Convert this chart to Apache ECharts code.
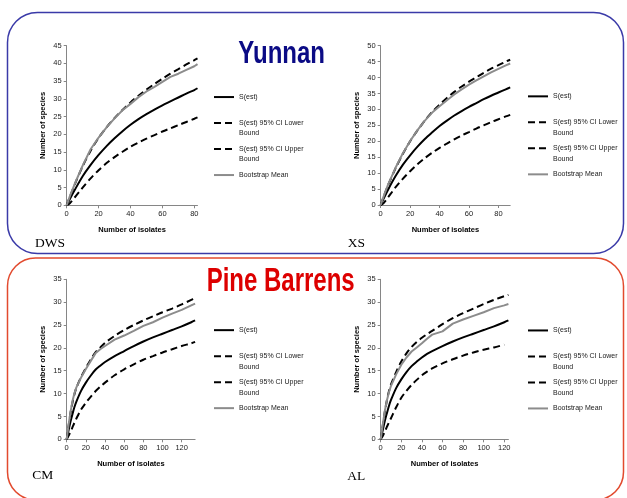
<!DOCTYPE html>
<html>
<head>
<meta charset="utf-8">
<script src="https://cdn.jsdelivr.net/npm/echarts@6/dist/echarts.min.js"></script>
<style>
  html, body { margin: 0; padding: 0; background: #fff; }
  #chart { width: 627px; height: 498px; }
</style>
</head>
<body>
<div id="chart"></div>
<script>
// DWS (Yunnan)
const dwsX     = [0, 2, 5, 10, 15, 20, 25, 30, 35, 40, 45, 50, 55, 60, 65, 70, 75, 80, 82];
const dwsEst   = [0, 1.8, 4.3, 8.2, 11.4, 14.2, 16.7, 18.9, 20.9, 22.7, 24.3, 25.7, 27, 28.2, 29.3, 30.4, 31.5, 32.5, 33];
const dwsLower = [0, 0.6, 2.2, 5, 7.6, 9.9, 11.9, 13.6, 15.1, 16.5, 17.7, 18.8, 19.8, 20.8, 21.7, 22.6, 23.5, 24.4, 24.8];
const dwsUpper = [0, 2.4, 5.8, 11, 15.4, 19, 22, 24.6, 26.9, 29, 30.9, 32.6, 34.2, 35.7, 37.1, 38.4, 39.7, 40.9, 41.4];
const dwsBoot  = [0, 2.6, 6, 11.2, 15.8, 19.1, 22, 24.5, 26.8, 28.6, 30.5, 32.1, 33.4, 34.8, 36.2, 37.1, 38.2, 39.2, 39.8];

// XS (Yunnan)
const xsX     = [0, 2, 5, 10, 15, 20, 25, 30, 35, 40, 45, 50, 55, 60, 65, 70, 75, 80, 85, 88];
const xsEst   = [0, 2, 4.8, 9, 12.6, 15.6, 18.3, 20.7, 22.8, 24.8, 26.5, 28.1, 29.5, 30.8, 32, 33.2, 34.3, 35.3, 36.3, 36.9];
const xsLower = [0, 0.6, 2.4, 5.5, 8.2, 10.6, 12.8, 14.7, 16.4, 17.9, 19.3, 20.6, 21.8, 22.9, 24, 25, 26, 26.9, 27.8, 28.3];
const xsUpper = [0, 2.6, 6.2, 11.4, 16, 20, 23.4, 26.5, 29.2, 31.5, 33.6, 35.5, 37.2, 38.7, 40.1, 41.5, 42.8, 43.9, 45, 45.6];
const xsBoot  = [0, 2.7, 6.4, 11.6, 16.2, 20.1, 23.5, 26.5, 29, 31, 32.9, 34.7, 36.3, 37.8, 39.1, 40.4, 41.6, 42.7, 43.8, 44.4];

// CM (Pine Barrens)
const cmX     = [0, 2, 4, 6, 8, 10, 15, 20, 25, 30, 35, 40, 50, 60, 70, 80, 90, 100, 110, 120, 130, 134];
const cmEst   = [0, 2, 3.9, 5.5, 7, 8.2, 10.6, 12.4, 13.9, 15.2, 16.1, 16.9, 18.2, 19.3, 20.4, 21.4, 22.3, 23.1, 23.9, 24.7, 25.6, 26];
const cmLower = [0, 0.8, 1.6, 2.6, 3.6, 4.5, 6.5, 8, 9.3, 10.5, 11.5, 12.4, 14, 15.3, 16.4, 17.4, 18.2, 19, 19.7, 20.4, 21, 21.3];
const cmUpper = [0, 3, 5.8, 8, 9.8, 11.2, 13.6, 15.6, 17.4, 19, 20.1, 21.1, 22.6, 23.9, 25, 26, 26.9, 27.8, 28.6, 29.5, 30.5, 30.9];
const cmBoot  = [0, 3.2, 6, 8.3, 10, 11.3, 13.5, 15.4, 17.1, 18.8, 19.7, 20.4, 21.8, 22.7, 23.7, 24.8, 25.6, 26.6, 27.5, 28.3, 29.3, 29.7];

// AL (Pine Barrens)
const alX     = [0, 2, 4, 6, 8, 10, 15, 20, 25, 30, 35, 40, 45, 50, 60, 70, 80, 90, 100, 110, 120, 124];
const alEst   = [0, 2, 4, 5.7, 7.3, 8.6, 11.2, 13.1, 14.7, 16, 17, 17.9, 18.7, 19.3, 20.4, 21.4, 22.3, 23.1, 23.9, 24.7, 25.6, 26];
const alLower = [0, 0.7, 1.7, 2.7, 3.7, 4.6, 7, 9.1, 10.6, 11.9, 13, 14, 14.8, 15.5, 16.6, 17.5, 18.3, 19, 19.6, 20.1, 20.7, null];
const alUpper = [0, 3, 6, 8.5, 10.5, 12, 14.7, 17, 18.8, 20.2, 21.3, 22.2, 23, 23.7, 25.2, 26.5, 27.6, 28.6, 29.6, 30.5, 31.3, 31.6];
const alBoot  = [0, 3.2, 6.2, 8.5, 10.3, 11.7, 14.2, 16.3, 17.9, 19.2, 20.1, 21, 22, 22.9, 23.6, 25.3, 26.2, 27, 27.8, 28.7, 29.3, 29.6];

const seriesNames = ['S(est)', 'S(est) 95% CI Lower Bound', 'S(est) 95% CI Upper Bound', 'Bootstrap Mean'];
const xMax = [82, 88, 134, 124];
const yMax = [45, 50, 35, 35];

const panels = [
  { x: dwsX, ys: [dwsEst, dwsLower, dwsUpper, dwsBoot] },
  { x: xsX,  ys: [xsEst, xsLower, xsUpper, xsBoot] },
  { x: cmX,  ys: [cmEst, cmLower, cmUpper, cmBoot] },
  { x: alX,  ys: [alEst, alLower, alUpper, alBoot] }
];

// layout of the four plots (px)
const grids = [
  { left: 66.7,  top: 45.7,  width: 130.8, height: 159.6 },
  { left: 380.7, top: 45.7,  width: 129.5, height: 159.3 },
  { left: 66.7,  top: 279.3, width: 128.4, height: 160 },
  { left: 380.7, top: 279.3, width: 127.7, height: 160 }
];
const legendPos = [
  { left: 213, top: 81.3 },
  { left: 527, top: 80.6 },
  { left: 213, top: 314.4 },
  { left: 527, top: 314.7 }
];

const axisGray = '#868686';
const font = 'Liberation Sans';

const lineStyles = [
  { color: '#000', width: 2, type: 'solid' },
  { color: '#000', width: 2, type: [7, 4] },
  { color: '#000', width: 2, type: [7, 4] },
  { color: '#8c8c8c', width: 2, type: 'solid' }
];

const series = [];
panels.forEach(function (p, i) {
  p.ys.forEach(function (ys, k) {
    series.push({
      name: seriesNames[k],
      type: 'line',
      xAxisIndex: i,
      yAxisIndex: i,
      symbol: 'none',
      smooth: k === 3 ? false : 0.3,
      lineStyle: lineStyles[k],
      itemStyle: { color: lineStyles[k].color },
      data: p.x.map(function (x, j) { return [x, ys[j]]; })
    });
  });
});

const xAxes = grids.map(function (g, i) {
  return {
    type: 'value', gridIndex: i, min: 0, max: xMax[i], interval: 20,
    name: 'Number of isolates', nameLocation: 'middle', nameGap: 21,
    nameTextStyle: { fontFamily: font, fontWeight: 'bold', fontSize: 7.5, color: '#000' },
    axisLine: { show: true, lineStyle: { color: axisGray, width: 1 } },
    axisTick: { show: true, length: 3, lineStyle: { color: axisGray } },
    axisLabel: { fontFamily: font, fontSize: 7.5, color: '#222', margin: 5, showMaxLabel: false },
    splitLine: { show: false }
  };
});

const yAxes = grids.map(function (g, i) {
  return {
    type: 'value', gridIndex: i, min: 0, max: yMax[i], interval: 5,
    name: 'Number of species', nameLocation: 'middle', nameGap: 20,
    nameTextStyle: { fontFamily: font, fontWeight: 'bold', fontSize: 7.5, color: '#000' },
    axisLine: { show: true, lineStyle: { color: axisGray, width: 1 } },
    axisTick: { show: true, length: 3, lineStyle: { color: axisGray } },
    axisLabel: { fontFamily: font, fontSize: 7.5, color: '#222', margin: 5 },
    splitLine: { show: false }
  };
});

// legend text: one blank line on top so the icon sits on the first text line
function legendLabel(name) {
  if (name === 'S(est) 95% CI Lower Bound') return '\nS(est) 95% CI Lower\nBound';
  if (name === 'S(est) 95% CI Upper Bound') return '\nS(est) 95% CI Upper\nBound';
  return '\n' + name + '\n';
}

const legends = legendPos.map(function (pos) {
  return {
    left: pos.left, top: pos.top, orient: 'vertical', padding: 0,
    itemWidth: 20, itemHeight: 10, itemGap: -5.5,
    selectedMode: false,
    data: seriesNames,
    formatter: legendLabel,
    itemStyle: { opacity: 0 },
    textStyle: { fontFamily: font, fontSize: 7, lineHeight: 10.5, color: '#1a1a1a' }
  };
});

const graphic = [
  { type: 'rect', shape: { x: 7.5, y: 12.5, width: 616, height: 241, r: 30 },
    style: { fill: 'none', stroke: '#3a3aa8', lineWidth: 1.5 } },
  { type: 'rect', shape: { x: 7.5, y: 258, width: 616, height: 242, r: 28 },
    style: { fill: 'none', stroke: '#e24a2e', lineWidth: 1.5 } },
  { type: 'text', x: 238.3, y: 54.6, scaleX: 0.774,
    style: { text: 'Yunnan', fontFamily: font, fontWeight: 'bold', fontSize: 31, fill: '#0b0b85', verticalAlign: 'middle' } },
  { type: 'text', x: 206.7, y: 282.4, scaleX: 0.738,
    style: { text: 'Pine Barrens', fontFamily: font, fontWeight: 'bold', fontSize: 32.5, fill: '#dd0000', verticalAlign: 'middle' } },
  { type: 'text', x: 35, y: 243.8,
    style: { text: 'DWS', fontFamily: 'Liberation Serif', fontSize: 13.5, fill: '#000', verticalAlign: 'middle' } },
  { type: 'text', x: 347.7, y: 243.2,
    style: { text: 'XS', fontFamily: 'Liberation Serif', fontSize: 13.5, fill: '#000', verticalAlign: 'middle' } },
  { type: 'text', x: 32.3, y: 475.5,
    style: { text: 'CM', fontFamily: 'Liberation Serif', fontSize: 13.5, fill: '#000', verticalAlign: 'middle' } },
  { type: 'text', x: 347.3, y: 476.5,
    style: { text: 'AL', fontFamily: 'Liberation Serif', fontSize: 13.5, fill: '#000', verticalAlign: 'middle' } }
];

const chart = echarts.init(document.getElementById('chart'));
chart.setOption({
  animation: false,
  backgroundColor: '#fff',
  grid: grids,
  xAxis: xAxes,
  yAxis: yAxes,
  legend: legends,
  graphic: graphic,
  series: series
});
</script>
</body>
</html>
